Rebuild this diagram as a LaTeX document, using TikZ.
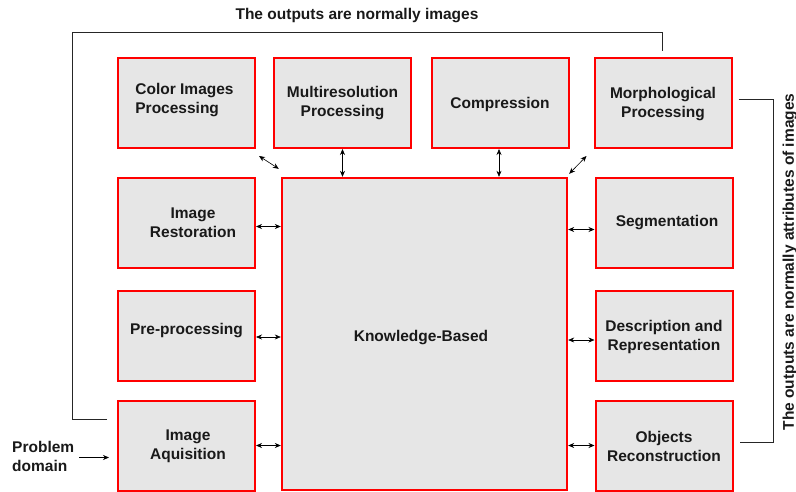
\documentclass[tikz,border=0pt]{standalone}
\usepackage{fontspec}
\setmainfont{Liberation Sans}
\usetikzlibrary{arrows.meta,calc}
\definecolor{boxgray}{HTML}{E6E6E6}
\definecolor{boxred}{HTML}{FF0000}
\tikzset{
  box/.style={draw=boxred, fill=boxgray, line width=2pt, inner sep=0pt,
    minimum width=137pt, minimum height=90pt},
  dbl/.style={{Stealth[length=6pt,width=5pt]}-{Stealth[length=6pt,width=5pt]}, line width=0.6pt},
  fb/.style={line width=0.9pt, black!85},
  lbl/.style={font=\fontsize{15.5}{19}\selectfont\bfseries, text=black!90, inner sep=0pt, align=center}
}
\begin{document}
\begin{tikzpicture}[x=1pt,y=-1pt]
\useasboundingbox (0,0) rectangle (796,491);
% top row
\node[box] (color) at (186.5,103) {};
\node[lbl, align=left] at (184.5,100) {Color Images\\Processing};
\node[box] (multi) at (342.5,103) {};
\node[lbl] at (342.5,103) {Multiresolution\\Processing};
\node[box] (comp) at (500,103) {};
\node[lbl] at (500,104) {Compression};
\node[box] (morph) at (663,103) {};
\node[lbl] at (663,104) {Morphological\\Processing};
% left column
\node[box] (rest) at (186.5,222.5) {};
\node[lbl] at (193,223) {Image\\Restoration};
\node[box] (pre) at (186.5,336) {};
\node[lbl] at (186.5,331) {Pre-processing};
\node[box] (acq) at (186.5,445.5) {};
\node[lbl] at (188,446) {Image\\Aquisition};
% right column
\node[box] (seg) at (664,222.5) {};
\node[lbl] at (667,223) {Segmentation};
\node[box] (desc) at (664,336) {};
\node[lbl] at (664,336.5) {Description and\\Representation};
\node[box] (obj) at (664,445.5) {};
\node[lbl] at (664,446) {Objects\\Reconstruction};
% central
\node[box, minimum width=285pt, minimum height=312pt, line width=2.4pt] (kb) at (424.5,334) {};
\node[lbl] at (421,338) {Knowledge-Based};
% arrows
\coordinate (c1) at ($(comp.south)+(-1,0)$);
\draw[dbl] ($(color.south east)+(3,7)$) -- ($(kb.north west)+(-2,-8)$);
\draw[dbl] (multi.south) -- (multi.south |- kb.north);
\draw[dbl] (c1) -- (c1 |- kb.north);
\draw[dbl] ($(morph.south west)+(-7,7)$) -- ($(kb.north east)+(1,-3)$);
\draw[dbl] ($(rest.east)+(0,4)$) -- ($(rest.east -| kb.west)+(0,4)$);
\draw[dbl] ($(pre.east)+(0,1)$) -- ($(pre.east -| kb.west)+(0,1)$);
\draw[dbl] (acq.east) -- (acq.east -| kb.west);
\draw[dbl] ($(seg.west)+(0,7)$) -- ($(seg.west -| kb.east)+(0,7)$);
\draw[dbl] ($(desc.west)+(0,4)$) -- ($(desc.west -| kb.east)+(0,4)$);
\draw[dbl] (obj.west) -- (obj.west -| kb.east);
% feedback lines
\coordinate (f1) at ($(acq.north west)+(-10,20)$);
\coordinate (f2) at ($(morph.north)+(-1,-6)$);
\draw[fb] (f1) -- (72,0 |- f1) -- (72,32) -- (f2 |- 0,32) -- (f2);
\node[lbl] (toplbl) at (357,16) {The outputs are normally images};
\coordinate (g1) at ($(morph.east)+(6,-4)$);
\coordinate (g2) at ($(obj.east)+(6,-3)$);
\draw[fb] (g1) -- (773,0 |- g1) -- (773,0 |- g2) -- (g2);
\node[lbl, rotate=90] (rlbl) at (790,262) {The outputs are normally attributes of images};
% problem domain
\node[lbl, align=left, anchor=west] (prob) at (12,456) {Problem\\domain};
\coordinate (p0) at ($(acq.west)+(-38,12)$);
\draw[line width=0.6pt, -{Stealth[length=6pt,width=5pt]}] (p0) -- ($(acq.west)+(-8,12)$);
\end{tikzpicture}
\end{document}
